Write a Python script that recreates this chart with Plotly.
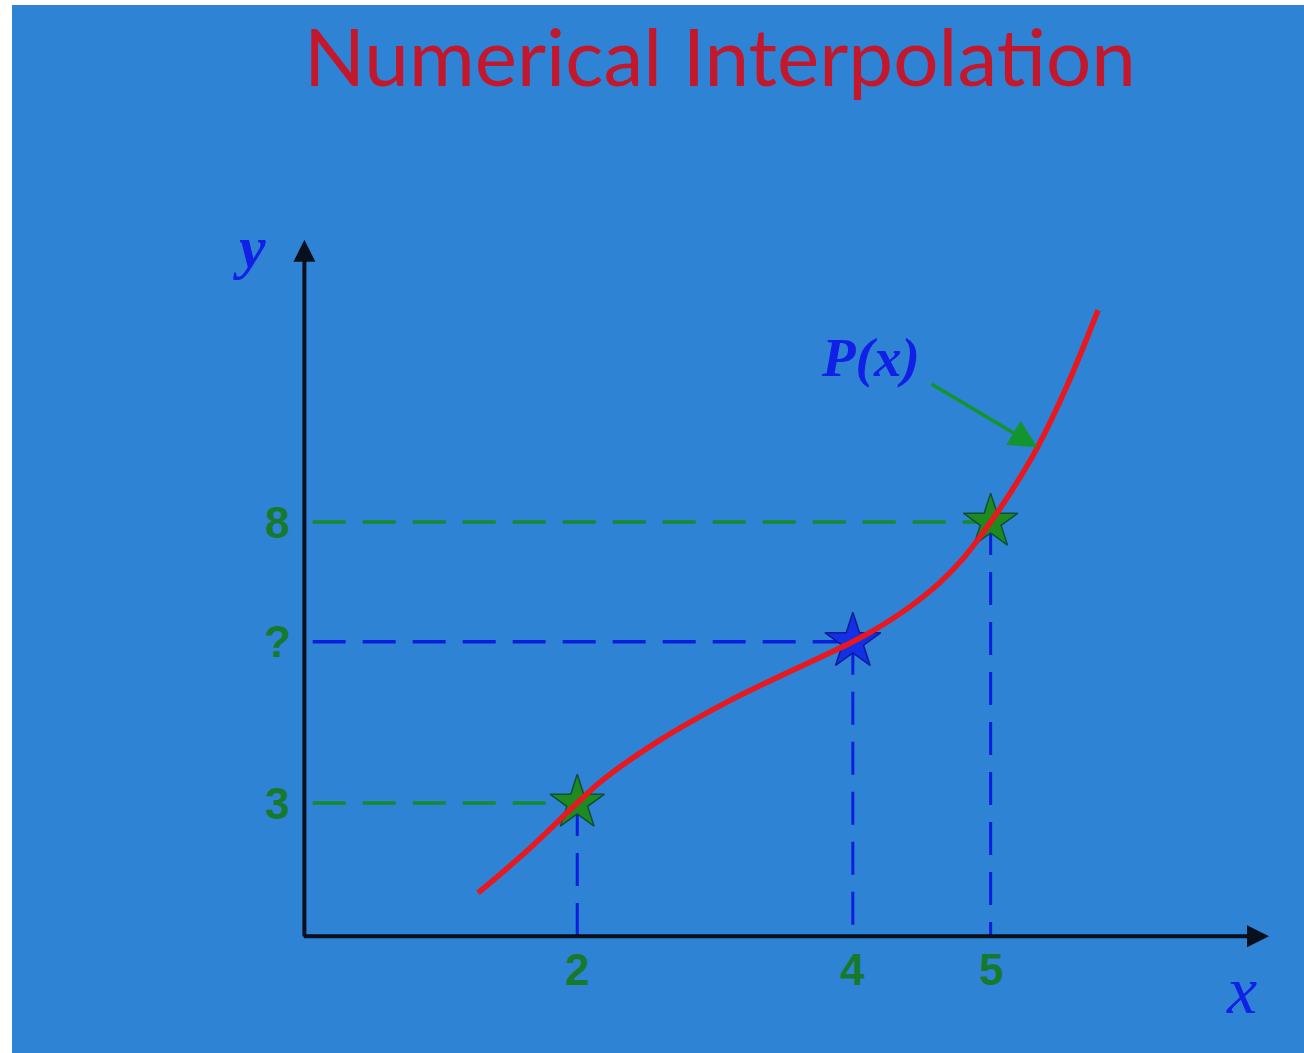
import plotly.graph_objects as go

# ---------------- data ----------------
curve_x = [1.28, 1.64, 2.00, 2.19, 2.60, 3.09, 3.57, 4.00, 4.15, 4.39, 4.63, 4.80, 5.00, 5.19, 5.34, 5.55, 5.78]
curve_y = [1.40, 2.16, 3.00, 3.42, 4.12, 4.80, 5.37, 5.87, 6.07, 6.45, 6.92, 7.35, 8.00, 8.70, 9.33, 10.40, 11.77]

known_x = [2, 5]
known_y = [3, 8]
query_x = [4]
query_y = [5.87]

x_tick_vals = [2, 4, 5]
x_tick_text = ["2", "4", "5"]
y_tick_vals = [3, 5.87, 8]
y_tick_text = ["3", "?", "8"]

arrow_tip = (5.34, 9.33)     # point on P(x) the green arrow points at
arrow_tail = (4.56, 10.47)

# axis geometry (data units)
ORIGIN_X, ORIGIN_Y = 0.02, 0.63
X_AXIS_END, Y_AXIS_END = 7.02, 13.02

# ---------------- style ----------------
BG_BLUE = "#2F83D4"
GREEN_TXT = "#167A2C"
GREEN_LINE = "#158A2E"
BLUE_LINE = "#0A1EDC"
BLUE_TXT = "#1020E6"
RED = "#E8181F"
TITLE_RED = "#C3182C"
DASH = "33px,17px"

fig = go.Figure()

h_y = [known_y[0], query_y[0], known_y[1]]
h_x = [known_x[0], query_x[0], known_x[1]]
h_col = [GREEN_LINE, BLUE_LINE, GREEN_LINE]
# horizontal dashed guides
for xv, yv, col in zip(h_x, h_y, h_col):
    fig.add_trace(go.Scatter(x=[ORIGIN_X + 0.06, xv], y=[yv, yv], mode="lines",
                             line=dict(color=col, width=3.5, dash=DASH),
                             hoverinfo="skip", showlegend=False))
# vertical dashed guides
for xv, yv in zip(h_x, h_y):
    fig.add_trace(go.Scatter(x=[xv, xv], y=[yv, ORIGIN_Y], mode="lines",
                             line=dict(color=BLUE_LINE, width=3, dash=DASH),
                             hoverinfo="skip", showlegend=False))

# star markers
fig.add_trace(go.Scatter(x=known_x, y=known_y, mode="markers",
                         marker=dict(symbol="star", size=41, color="#1E8A20",
                                     line=dict(color="#0D4F3A", width=1.5)),
                         showlegend=False))
fig.add_trace(go.Scatter(x=query_x, y=query_y, mode="markers",
                         marker=dict(symbol="star", size=42, color="#1430E4",
                                     line=dict(color="#0A1A9A", width=1.5)),
                         showlegend=False))

# interpolating polynomial curve
fig.add_trace(go.Scatter(x=curve_x, y=curve_y, mode="lines",
                         line=dict(color=RED, width=5.5, shape="spline", smoothing=1.0),
                         showlegend=False))

ann = []
# axes with arrowheads
ann.append(dict(x=X_AXIS_END, y=ORIGIN_Y, ax=ORIGIN_X - 0.015, ay=ORIGIN_Y, xref="x", yref="y",
                axref="x", ayref="y", text="", showarrow=True, arrowhead=2,
                arrowwidth=4, arrowsize=1.1, arrowcolor="#0A0F1E", standoff=0))
ann.append(dict(x=ORIGIN_X, y=Y_AXIS_END, ax=ORIGIN_X, ay=ORIGIN_Y - 0.03, xref="x", yref="y",
                axref="x", ayref="y", text="", showarrow=True, arrowhead=2,
                arrowwidth=4, arrowsize=1.1, arrowcolor="#0A0F1E", standoff=0))
# green pointer to P(x)
ann.append(dict(x=arrow_tip[0], y=arrow_tip[1], ax=arrow_tail[0], ay=arrow_tail[1],
                xref="x", yref="y", axref="x", ayref="y", text="", showarrow=True,
                arrowhead=2, arrowwidth=3.5, arrowsize=1.6, arrowcolor="#12952E", standoff=0))

# tick labels
for xv, t in zip(x_tick_vals, x_tick_text):
    ann.append(dict(x=xv, y=ORIGIN_Y, xref="x", yref="y", text="<b>%s</b>" % t,
                    showarrow=False, yshift=-33, xanchor="center", yanchor="middle",
                    font=dict(family="Liberation Sans", size=44, color=GREEN_TXT)))
for yv, t in zip(y_tick_vals, y_tick_text):
    ann.append(dict(x=ORIGIN_X, y=yv, xref="x", yref="y", text="<b>%s</b>" % t,
                    showarrow=False, xshift=-27, xanchor="center", yanchor="middle",
                    font=dict(family="Liberation Sans", size=44, color=GREEN_TXT)))

# axis names and curve label
ann.append(dict(x=0.1842, y=0.7691, xref="paper", yref="paper", text="<b><i>y</i></b>",
                showarrow=False, xanchor="center", yanchor="middle",
                font=dict(family="Liberation Serif", size=60, color=BLUE_TXT)))
ann.append(dict(x=0.952, y=0.0601, xref="paper", yref="paper", text="<i>x</i>",
                showarrow=False, xanchor="center", yanchor="middle",
                font=dict(family="Liberation Serif", size=68, color=BLUE_TXT)))
ann.append(dict(x=0.6641, y=0.6632, xref="paper", yref="paper", text="<b><i>P(x)</i></b>",
                showarrow=False, xanchor="center", yanchor="middle",
                font=dict(family="Liberation Serif", size=55, color=BLUE_TXT)))

# title
ann.append(dict(x=0.548, y=0.9523, xref="paper", yref="paper", text="Numerical Interpolation",
                showarrow=False, xanchor="center", yanchor="middle",
                font=dict(family="Lato", size=80, color=TITLE_RED)))

fig.update_layout(
    width=1304, height=1053,
    margin=dict(l=12, r=0, t=5, b=0, pad=0),
    paper_bgcolor="white", plot_bgcolor=BG_BLUE,
    xaxis=dict(range=[-2.102, 7.274], visible=False, fixedrange=True),
    yaxis=dict(range=[-1.448, 17.199], visible=False, fixedrange=True),
    annotations=ann,
    showlegend=False,
)

fig.write_html("out.html", config={"displayModeBar": False},
               post_script="document.body.style.margin='0';document.body.style.overflow='hidden';")
